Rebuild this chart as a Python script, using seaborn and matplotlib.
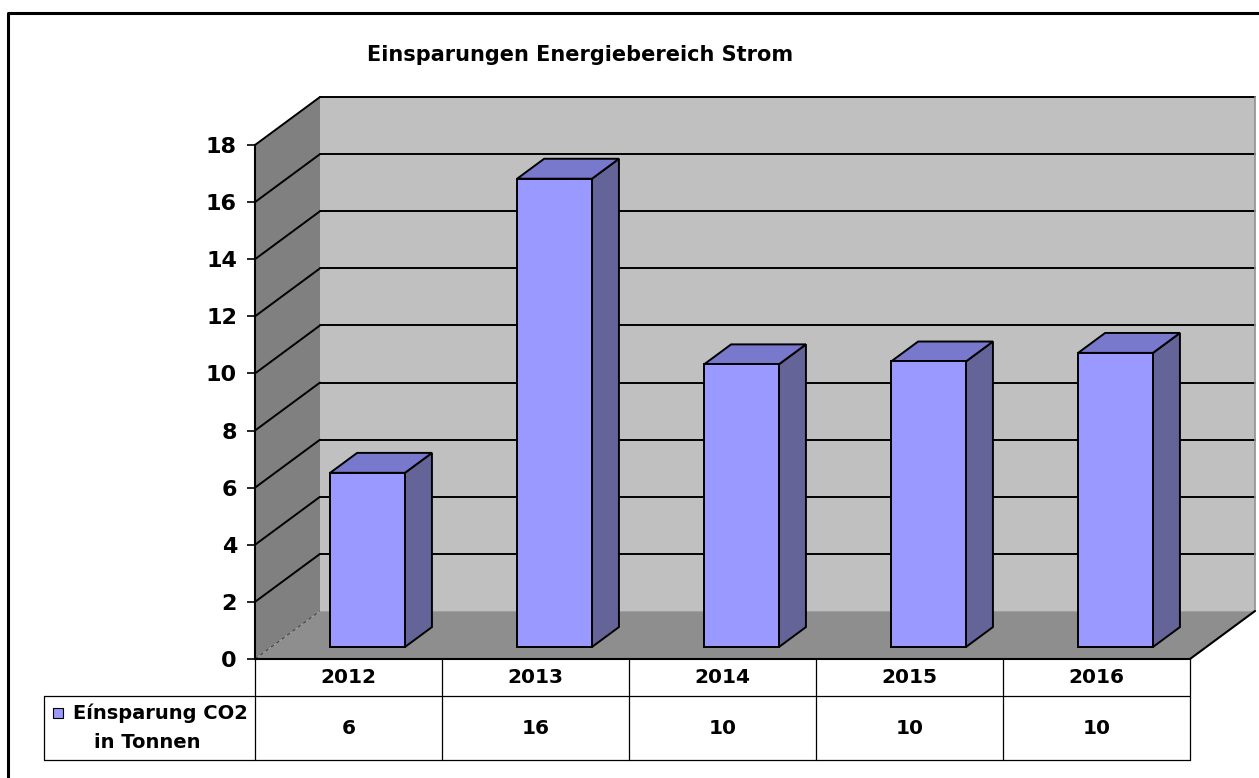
import matplotlib
matplotlib.use("Agg")
import matplotlib.pyplot as plt
from matplotlib.patches import Polygon
from matplotlib.lines import Line2D
import seaborn as sns
import pandas as pd

# data
years = ["2012", "2013", "2014", "2015", "2016"]
savings = [6.1, 16.4, 9.9, 10.0, 10.3]
table_labels = ["6", "16", "10", "10", "10"]
series_name = ["Eínsparung CO2", "in Tonnen"]
title = "Einsparungen Energiebereich Strom"
yticks = [0, 2, 4, 6, 8, 10, 12, 14, 16, 18]

W, H = 1259, 778
sns.set_style("white")
plt.rcParams['font.family'] = ['DejaVu Sans']
plt.rcParams['font.weight'] = 'bold'
plt.rcParams['text.color'] = 'black'
plt.rcParams['ytick.color'] = 'black'
plt.rcParams['ytick.labelcolor'] = 'black'

fig = plt.figure(figsize=(W / 100, H / 100), dpi=100)
ax = fig.add_axes([255 / W, (H - 659) / H, 935 / W, 514 / H])

df = pd.DataFrame({'Jahr': years, 'CO2': savings})
sns.barplot(data=df, x='Jahr', y='CO2', width=0.4, color='#9999ff', saturation=1,
            edgecolor='black', linewidth=1.4, ax=ax, zorder=5)
ax.set_xlim(-0.5, 4.5)
ax.set_ylim(0, 18)

# 3d depth in data units
DX, DY = 65 / 187, 48 / (514 / 18)
F0, BD = 0.25, 0.415
x0, x1 = -0.5, 4.5
ytop = yticks[-1]

walls = [
    ([(x0, 0), (x0 + DX, DY), (x0 + DX, ytop + DY), (x0, ytop)], '#808080'),
    ([(x0 + DX, DY), (x1 + DX, DY), (x1 + DX, ytop + DY), (x0 + DX, ytop + DY)], '#c0c0c0'),
    ([(x0, 0), (x1, 0), (x1 + DX, DY), (x0 + DX, DY)], '#8e8e8e'),
]
for pts, c in walls:
    ax.add_patch(Polygon(pts, closed=True, facecolor=c, edgecolor='none', zorder=0, clip_on=False))

for v in yticks[1:]:
    ax.plot([x0 + DX, x1 + DX], [v + DY, v + DY], color='black', lw=1.4, zorder=1, clip_on=False)
    ax.plot([x0, x0 + DX], [v, v + DY], color='black', lw=1.4, zorder=1, clip_on=False)
ax.plot([x0, x0 + DX], [0, DY], color='#444444', lw=0.8, ls=(0, (3, 3)), zorder=1, clip_on=False)
ax.plot([x0 + DX, x1 + DX], [DY, DY], color='#a0a0a0', lw=0.8, zorder=1, clip_on=False)
ax.plot([x1 + DX, x1 + DX], [DY, ytop + DY], color='#909090', lw=1.2, zorder=1, clip_on=False)
ax.plot([x1, x1 + DX], [0, DY], color='black', lw=1.5, zorder=2, clip_on=False)

# bars: push into depth and add top / side faces
for p in ax.patches:
    if not hasattr(p, 'get_width'):
        continue
    bx = p.get_x() + F0 * DX + 0.015
    by = F0 * DY
    p.set_x(bx)
    p.set_y(by)
    w, h = p.get_width(), p.get_height()
    ddx, ddy = BD * DX, BD * DY
    side = [(bx + w, by), (bx + w + ddx, by + ddy), (bx + w + ddx, by + h + ddy), (bx + w, by + h)]
    top = [(bx, by + h), (bx + ddx, by + h + ddy), (bx + w + ddx, by + h + ddy), (bx + w, by + h)]
    ax.add_patch(Polygon(side, closed=True, facecolor='#646499', edgecolor='black', lw=1.4, zorder=4))
    ax.add_patch(Polygon(top, closed=True, facecolor='#7878cc', edgecolor='black', lw=1.4, zorder=4))

# axes styling
for s in ['top', 'right']:
    ax.spines[s].set_visible(False)
for s in ['left', 'bottom']:
    ax.spines[s].set_color('black')
    ax.spines[s].set_linewidth(1.5)
    ax.spines[s].set_zorder(6)
ax.set_yticks(yticks)
ax.set_yticklabels([str(t) for t in yticks], fontsize=16, fontweight='bold')
ax.tick_params(axis='y', length=6, width=1.2, color='black', labelcolor='black', pad=7, left=True)
ax.set_xticks([])
ax.set_xlabel('')
ax.set_ylabel('')

# data table below the chart
r1, r2 = -37 / (514 / 18), -101 / (514 / 18)
xleg = x0 - 211 / 187
tl = dict(color='black', lw=0.9, clip_on=False, zorder=6)
for i in range(len(years) + 1):
    ax.plot([x0 + i, x0 + i], [0, r2], **tl)
ax.plot([xleg, x1], [r1, r1], **tl)
ax.plot([xleg, x1], [r2, r2], **tl)
ax.plot([xleg, xleg], [r1, r2], **tl)
for i, (yr, lab) in enumerate(zip(years, table_labels)):
    ax.text(i, r1 / 2, yr, ha='center', va='center', fontsize=14.5, fontweight='bold')
    ax.text(i, (r1 + r2) / 2, lab, ha='center', va='center', fontsize=14.5, fontweight='bold')
ax.plot([x0 - 197 / 187], [-54 / (514 / 18)], marker='s', ms=7.5, mfc='#9999ff', mec='black',
        mew=0.8, clip_on=False, zorder=7)
ax.text(x0 - 182 / 187, -54 / (514 / 18), series_name[0], ha='left', va='center',
        fontsize=14, fontweight='bold')
ax.text(x0 - 108 / 187, -84 / (514 / 18), series_name[1], ha='center', va='center',
        fontsize=14, fontweight='bold')

# title and frame
fig.text(580 / W, 1 - 55 / H, title, ha='center', va='center', fontsize=15, fontweight='bold')
fig.add_artist(Line2D([8 / W, 8 / W, 1], [0, 1 - 13 / H, 1 - 13 / H], color='black', lw=2.2,
                      transform=fig.transFigure))

fig.savefig('out.png', dpi=100)
